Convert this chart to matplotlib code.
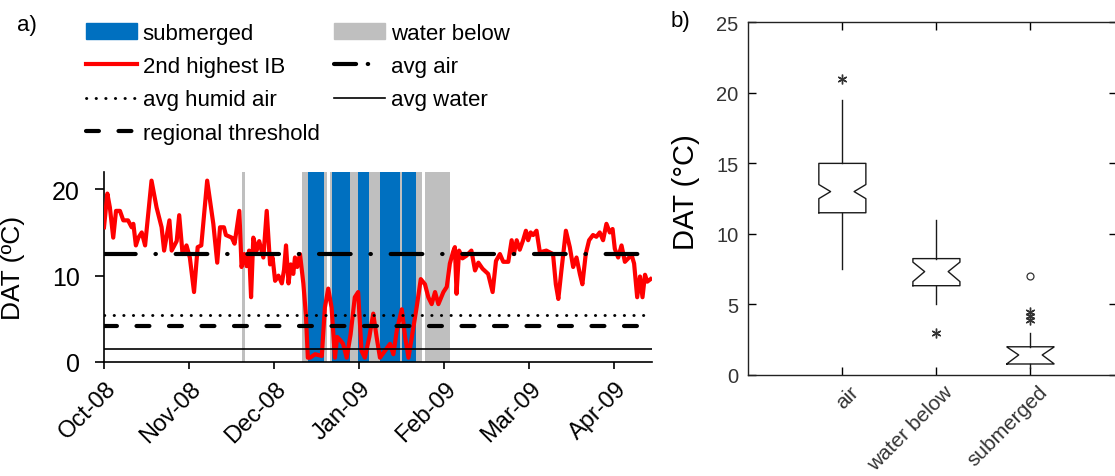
import numpy as np
import matplotlib
matplotlib.use("Agg")
import matplotlib.pyplot as plt
import matplotlib.patches as mpatches
import matplotlib.lines as mlines
import matplotlib.transforms as mtransforms

plt.rcParams['font.family'] = ['Liberation Sans', 'DejaVu Sans']

# ---------------- data: panel a ----------------
# days since 1 Oct 2008 and DAT of the 2nd highest ice block (IB)
days = [0.0, 1.2, 2.1, 3.3, 4.3, 5.7, 6.9, 8.6, 9.9, 10.5, 11.4, 12.3, 13.5, 14.7,
        17.0, 18.8, 20.6, 21.5, 23.4, 24.2, 26.0, 26.9, 28.1, 29.5, 30.7, 32.2,
        33.5, 34.8, 36.9, 39.1, 40.5, 41.5, 42.9, 43.6, 45.7, 46.7, 48.4, 49.2,
        50.2, 51.0, 51.9, 52.6, 53.4, 54.6, 55.5, 57.0, 58.2, 59.4, 60.3, 61.2,
        62.4, 63.6, 64.4, 65.1, 66.0, 66.8, 67.7, 68.3, 69.1, 70.1, 71.3, 72.2,
        72.9, 73.7, 75.5, 77.9, 79.0, 80.2, 81.4, 82.6, 83.4, 84.6, 85.5, 86.8,
        88.2, 89.7, 90.9, 92.1, 93.3, 94.9, 96.3, 97.5, 98.7, 100.5, 102.3, 103.5,
        104.7, 106.5, 107.7, 108.9, 110.1, 111.8, 113.3, 114.8, 116.0, 117.2,
        118.4, 119.6, 121.4, 122.6, 123.7, 124.9, 125.5, 126.1, 127.0, 128.2,
        129.6, 131.4, 132.7, 133.9, 135.4, 137.4, 139.0, 140.2, 141.6, 142.8,
        144.6, 145.8, 146.6, 147.6, 148.7, 149.9, 150.9, 151.7, 152.6, 153.5,
        154.7, 155.9, 158.2, 160.6, 161.6, 162.5, 163.6, 165.2, 166.6, 167.8,
        169.0, 170.2, 171.1, 172.3, 173.5, 174.9, 176.1, 177.3, 178.5, 179.7,
        180.9, 181.9, 182.7, 183.9, 185.1, 186.3, 187.5, 188.7, 189.6, 190.7,
        191.7, 192.6, 193.5, 194.3, 195.5]
dat_ib = [15.6, 19.5, 17.9, 14.4, 17.5, 17.5, 16.4, 16.4, 15.6, 16.0, 13.5, 14.4, 15.0, 13.5,
          21.0, 17.9, 15.6, 12.9, 16.4, 12.9, 14.0, 17.0, 12.5, 13.5, 12.1, 8.1,
          13.3, 13.5, 21.0, 16.0, 11.5, 15.6, 15.6, 14.7, 14.4, 13.7, 17.5, 11.0,
          12.5, 11.1, 12.9, 7.5, 14.4, 12.9, 14.0, 12.1, 17.5, 11.3, 12.1, 9.4,
          10.0, 9.1, 10.7, 13.5, 9.1, 11.3, 10.2, 12.1, 11.0, 12.5, 9.1, 5.5,
          0.5, 0.5, 0.9, 0.7, 6.3, 8.5, 6.3, 0.5, 2.9, 2.5, 2.1, 0.5,
          3.2, 7.5, 8.1, 1.3, 0.5, 2.9, 5.6, 2.9, 0.5, 1.3, 2.1, 0.9,
          3.6, 6.1, 2.9, 0.5, 2.9, 6.3, 9.6, 9.0, 7.5, 6.7,
          8.1, 6.7, 8.1, 8.7, 11.4, 12.8, 13.3, 7.9, 12.9, 12.0,
          12.3, 12.9, 10.6, 11.5, 10.8, 10.2, 8.1, 11.7, 12.5, 11.6,
          11.6, 14.1, 12.5, 14.1, 13.0, 14.1, 15.2, 14.1, 15.0, 14.7,
          15.2, 12.7, 12.9, 12.5, 9.0, 7.3, 10.6, 15.2, 13.3, 11.0,
          12.1, 10.2, 9.0, 12.5, 14.1, 14.7, 14.5, 15.0, 14.1, 16.0,
          15.0, 15.4, 13.1, 12.1, 13.5, 11.6, 12.0, 12.4, 11.4, 7.5,
          9.9, 7.5, 10.1, 9.3, 9.6]

# periods (days since 1 Oct 2008)
water_start = [49.3, 70.9, 80.7, 114.8]
water_end = [50.5, 79.9, 113.6, 123.7]
sub_start = [72.8, 81.4, 90.7, 98.7, 106.5]
sub_end = [78.8, 88.0, 94.8, 105.9, 111.5]

avg_air = 12.5
avg_humid_air = 5.5
regional_threshold = 4.2
avg_water = 1.45

month_labels = ['Oct-08', 'Nov-08', 'Dec-08', 'Jan-09', 'Feb-09', 'Mar-09', 'Apr-09']

# ---------------- data: panel b ----------------
categories = ['air', 'water below', 'submerged']
medians = [13.0, 7.33, 1.42]
q1s = [11.5, 6.33, 0.78]
q3s = [15.0, 8.25, 2.0]
whis_lo = [7.5, 5.0, 0.5]
whis_hi = [19.5, 11.0, 3.0]
notch_lo = [12.5, 6.62, 0.8]
notch_hi = [13.5, 8.0, 1.98]
extremes = [[21.0], [3.0], [4.5, 4.2, 3.9]]
outliers = [[], [], [7.0]]

# line styles
air_ls = (0, (7.6, 4.75, 0.1, 4.75))
air_ls_leg = (0, (5.3, 2.8, 0.1, 6))
humid_ls = (0, (0.1, 3.2))
thresh_ls = (0, (3.1, 4.7))

# =============================
# figure
# =============================
fig = plt.figure(figsize=(11.15, 4.77), dpi=100)
W, H = 1115, 477
axa = fig.add_axes([104 / W, 1 - 363 / H, 548 / W, 190 / H])
axb = fig.add_axes([748.3 / W, 1 - 376 / H, (1117 - 748.3) / W, 352.7 / H])

# --- panel a ---
for s, e in zip(water_start, water_end):
    axa.axvspan(s, e, color='#BFBFBF', lw=0, zorder=1)
for s, e in zip(sub_start, sub_end):
    axa.axvspan(s, e, color='#0070C0', lw=0, zorder=2)

axa.plot(days, dat_ib, color='#FF0000', lw=3, zorder=3)
axa.axhline(avg_air, color='k', lw=3, ls=air_ls, dash_capstyle='round', zorder=4)
axa.axhline(avg_humid_air, color='k', lw=2.1, ls=humid_ls, dash_capstyle='round', zorder=4)
axa.axhline(regional_threshold, color='k', lw=3, ls=thresh_ls, dash_capstyle='round', zorder=4)
axa.axhline(avg_water, color='k', lw=1.2, zorder=4)

axa.set_xlim(0, 196)
axa.set_ylim(0, 22)
axa.set_yticks([0, 10, 20])
axa.set_xticks(np.arange(len(month_labels)) * 30.4)
axa.set_xticklabels(month_labels)
for sp in ['top', 'right']:
    axa.spines[sp].set_visible(False)
for sp in ['left', 'bottom']:
    axa.spines[sp].set_linewidth(1.2)
axa.tick_params(axis='y', direction='out', length=6.5, width=1.2, labelsize=18, pad=11)
axa.tick_params(axis='x', direction='out', length=5, width=1.2, labelsize=17, pad=6)
offa = mtransforms.ScaledTranslation(1 / 100, 0, fig.dpi_scale_trans)
for lab in axa.get_xticklabels():
    lab.set_rotation(45)
    lab.set_ha('right')
    lab.set_va('top')
    lab.set_rotation_mode('anchor')
    lab.set_transform(lab.get_transform() + offa)
axa.set_ylabel('DAT (ºC)', fontsize=19)
axa.yaxis.set_label_coords(-0.145, 0.5)

# legend for panel a
handles = [
    mpatches.Patch(color='#0070C0', label='submerged'),
    mlines.Line2D([], [], color='#FF0000', lw=3, label='2nd highest IB'),
    mlines.Line2D([], [], color='k', lw=2.1, ls=humid_ls, dash_capstyle='round',
                  label='avg humid air'),
    mlines.Line2D([], [], color='k', lw=3, ls=thresh_ls, dash_capstyle='round',
                  label='regional threshold'),
    mpatches.Patch(color='#BFBFBF', label='water below'),
    mlines.Line2D([], [], color='k', lw=3, ls=air_ls_leg, dash_capstyle='round',
                  label='avg air'),
    mlines.Line2D([], [], color='k', lw=1.2, label='avg water'),
]
fig.legend(handles=handles, ncol=2, loc='upper left',
           bbox_to_anchor=(86 / W, 1 - 24 / H), frameon=False, fontsize=16,
           borderpad=0, borderaxespad=0, handlelength=2.3, handleheight=0.7,
           handletextpad=0.25, labelspacing=0.55, columnspacing=0.65)

# --- panel b ---
stats = []
for i, name in enumerate(categories):
    stats.append(dict(label=name, med=medians[i], q1=q1s[i], q3=q3s[i],
                      whislo=whis_lo[i], whishi=whis_hi[i],
                      cilo=notch_lo[i], cihi=notch_hi[i], fliers=[]))
positions = [1, 2, 3]
lc = '#1a1a1a'
axb.bxp(stats, positions=positions, widths=0.5, shownotches=True,
        showfliers=False, showcaps=False,
        boxprops=dict(color=lc, lw=1), whiskerprops=dict(color=lc, lw=1),
        medianprops=dict(lw=0))
for p, ext, out in zip(positions, extremes, outliers):
    if ext:
        axb.plot([p] * len(ext), ext, ls='none', marker=(6, 2, 0), ms=7,
                 mew=1, color='#333333')
    if out:
        axb.plot([p] * len(out), out, ls='none', marker='o', ms=5,
                 mfc='none', mew=0.9, color='#333333')

axb.set_xlim(0, 3.92)
axb.set_ylim(0, 25)
axb.set_yticks([0, 5, 10, 15, 20, 25])
axb.set_xticks(positions)
axb.set_xticklabels(categories)
for sp in axb.spines.values():
    sp.set_linewidth(1)
    sp.set_color('#222222')
axb.tick_params(direction='in', top=True, right=True, length=6, width=1,
                labelsize=14.5, labelcolor='#333333', pad=7)
axb.tick_params(axis='x', pad=5, labelsize=15)
offb = mtransforms.ScaledTranslation(7 / 100, 0, fig.dpi_scale_trans)
for lab in axb.get_xticklabels():
    lab.set_rotation(45)
    lab.set_ha('right')
    lab.set_va('top')
    lab.set_rotation_mode('anchor')
    lab.set_transform(lab.get_transform() + offb)
axb.set_ylabel('DAT (°C)', fontsize=21)
axb.yaxis.set_label_coords(-0.131, 0.52)

fig.text(17 / W, 1 - 25 / H, 'a)', fontsize=16, va='center', ha='left')
fig.text(671 / W, 1 - 22 / H, 'b)', fontsize=16, va='center', ha='left')

fig.savefig('out.png', dpi=100)
